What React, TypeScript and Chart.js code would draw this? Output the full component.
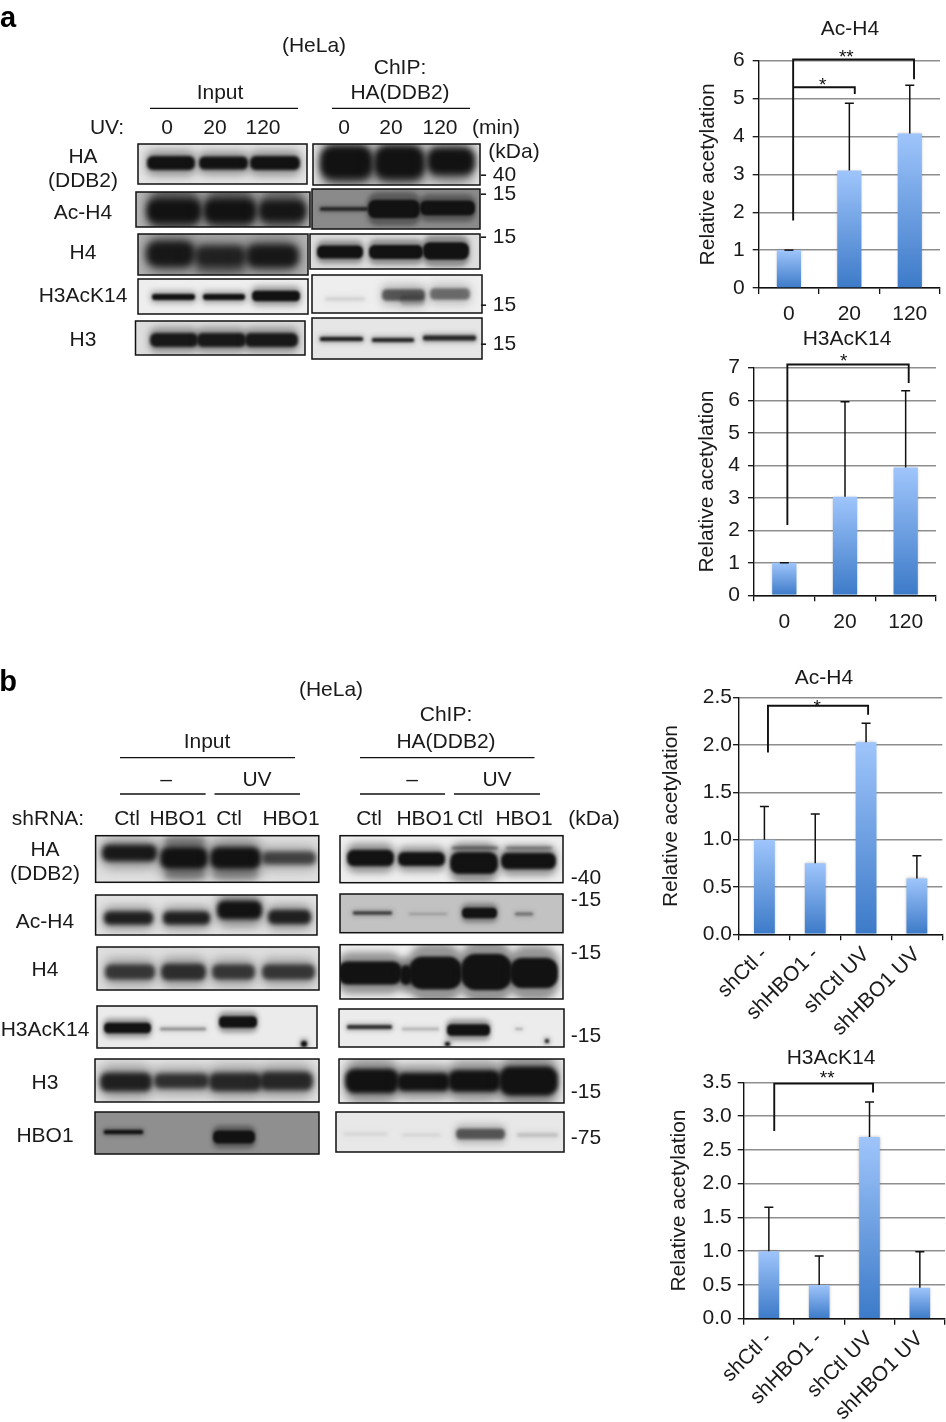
import React, { useEffect, useRef } from "react";
import { Chart, registerables } from "chart.js";

Chart.register(...registerables);

const FONT = '"Liberation Sans", Arial, Helvetica, sans-serif';
const TEXT_SIZE = 21;

// ---------- chart data ----------
const timeCategories = ["0", "20", "120"];
const knockdownCategories = ["shCtl -", "shHBO1 -", "shCtl UV", "shHBO1 UV"];
const yAxisLabel = "Relative acetylation";

const acH4TimeValues = [1, 3.1, 4.08];
const acH4TimeErrorTops = [1, 4.88, 5.35];
const h3TimeValues = [1, 3.03, 3.93];
const h3TimeErrorTops = [1, 5.95, 6.29];
const acH4KdValues = [1.0, 0.75, 2.03, 0.59];
const acH4KdErrorTops = [1.35, 1.27, 2.23, 0.83];
const h3KdValues = [1.0, 0.5, 2.69, 0.46];
const h3KdErrorTops = [1.65, 0.93, 3.21, 0.99];

// Significance brackets in data units: category position and value
const acH4TimeBrackets = [
  { from: 0.07, to: 2.07, fromY: 1.78, topY: 6.03, toY: 5.51 },
  { from: 0.07, to: 1.09, fromY: 5.3, topY: 5.3, toY: 5.12 },
];
const acH4TimeStars = [{ x: 0.95, y: 6.16, text: "**" }, { x: 0.56, y: 5.42, text: "*" }];
const h3TimeBrackets = [{ from: 0.05, to: 2.05, fromY: 2.16, topY: 7.1, toY: 6.53 }];
const h3TimeStars = [{ x: 0.98, y: 7.28, text: "*" }];
const acH4KdBrackets = [{ from: 0.07, to: 2.04, fromY: 1.92, topY: 2.415, toY: 2.32 }];
const acH4KdStars = [{ x: 1.04, y: 2.43, text: "*" }];
const h3KdBrackets = [{ from: 0.107, to: 2.07, fromY: 2.78, topY: 3.48, toY: 3.35 }];
const h3KdStars = [{ x: 1.16, y: 3.6, text: "**" }];

// ---------- chart set-up ----------
const CHARTS = [
  {
    title: "Ac-H4", labels: timeCategories, values: acH4TimeValues, errors: acH4TimeErrorTops,
    brackets: acH4TimeBrackets, stars: acH4TimeStars, max: 6, step: 1, decimals: 0, rotated: false,
    left: 680, right: 946, top: 15, bottom: 330, L: 758.7, R: 940, T: 60.7, B: 288,
    titleX: 850, titleY: 29, yTitleX: 708.7, tickPad: 8, barFrac: 0.4,
  },
  {
    title: "H3AcK14", labels: timeCategories, values: h3TimeValues, errors: h3TimeErrorTops,
    brackets: h3TimeBrackets, stars: h3TimeStars, max: 7, step: 1, decimals: 0, rotated: false,
    left: 680, right: 946, top: 325, bottom: 640, L: 754, R: 936, T: 367.7, B: 595.3,
    titleX: 847, titleY: 339, yTitleX: 707, tickPad: 8, barFrac: 0.4,
  },
  {
    title: "Ac-H4", labels: knockdownCategories, values: acH4KdValues, errors: acH4KdErrorTops,
    brackets: acH4KdBrackets, stars: acH4KdStars, max: 2.5, step: 0.5, decimals: 1, rotated: true,
    left: 650, right: 946, top: 664, bottom: 1045, L: 739, R: 942.3, T: 697.7, B: 934.3,
    titleX: 824, titleY: 678, yTitleX: 671.7, tickPad: 1, barFrac: 0.41,
  },
  {
    title: "H3AcK14", labels: knockdownCategories, values: h3KdValues, errors: h3KdErrorTops,
    brackets: h3KdBrackets, stars: h3KdStars, max: 3.5, step: 0.5, decimals: 1, rotated: true,
    left: 650, right: 946, top: 1044, bottom: 1422, L: 743.7, R: 945, T: 1082.3, B: 1318.7,
    titleX: 831, titleY: 1058, yTitleX: 679, tickPad: 6, barFrac: 0.41,
  },
];

// ---------- page labels: [text, centre x, centre y] ----------
const panelLetters = [["a", 8, 17], ["b", 8, 681]];
const blotLabels: [string, number, number][] = [
  ["(HeLa)", 314, 44], ["Input", 220, 91], ["ChIP:", 400, 66], ["HA(DDB2)", 400, 91],
  ["UV:", 107, 126], ["0", 167, 126], ["20", 215, 126], ["120", 263, 126],
  ["0", 344, 126], ["20", 391, 126], ["120", 440, 126], ["(min)", 496, 126], ["(kDa)", 514, 150],
  ["HA", 83, 155], ["(DDB2)", 83, 179], ["Ac-H4", 83, 211], ["H4", 83, 251], ["H3AcK14", 83, 294], ["H3", 83, 338],
  ["- 40", 498, 173], ["- 15", 498, 192], ["- 15", 498, 235], ["- 15", 498, 303], ["- 15", 498, 342],
  ["(HeLa)", 331, 688], ["Input", 207, 740], ["ChIP:", 446, 713], ["HA(DDB2)", 446, 740],
  ["–", 166, 778], ["UV", 257, 778], ["–", 412, 778], ["UV", 497, 778],
  ["shRNA:", 48, 817], ["Ctl", 127, 817], ["HBO1", 178, 817], ["Ctl", 229, 817], ["HBO1", 291, 817],
  ["Ctl", 369, 817], ["HBO1", 425, 817], ["Ctl", 470, 817], ["HBO1", 524, 817], ["(kDa)", 594, 817],
  ["HA", 45, 848], ["(DDB2)", 45, 872], ["Ac-H4", 45, 920], ["H4", 45, 968], ["H3AcK14", 45, 1028], ["H3", 45, 1081], ["HBO1", 45, 1134],
  ["-40", 586, 876], ["-15", 586, 898], ["-15", 586, 951], ["-15", 586, 1034], ["-15", 586, 1090], ["-75", 586, 1136],
];

// ---------- blot layer: page-unit scene for the image panels ----------
const headerRules = [
  [150, 298, 108.3], [332, 470, 108.3], [120, 295, 757.7], [360, 534.5, 757.7],
  [120, 205.6, 794], [214.5, 300, 794], [360, 445, 794], [454, 540, 794],
];
// band: [x0, x1, centre y, height, strength]; low-strength tall bands are lane haze
const blots = [
  { box: [138, 144, 307, 184], bg: "#e4e4e4", blur: 1.8, bands: [[147, 195, 163, 11, 1], [199, 248, 163, 10, 1], [250, 300, 163, 11, 1]] },
  { box: [313, 144, 480, 185], bg: "#eeeeee", blur: 3, bands: [[322, 372, 173, 14, 0.35], [375, 424, 173, 14, 0.35], [430, 472, 172, 10, 0.2], [320, 373, 162, 27, 1], [374, 425, 162, 27, 1], [427, 475, 161, 22, 1]] },
  { box: [136, 192, 310, 227], bg: "#bdbdbd", blur: 3, bands: [[148, 200, 210, 36, 0.3], [205, 255, 210, 36, 0.3], [260, 305, 210, 36, 0.25], [147, 201, 211, 19, 1], [204, 256, 211, 19, 1], [259, 306, 211, 17, 0.95]] },
  { box: [312, 189, 480, 229], bg: "#8a8a8a", blur: 0.8, bands: [[320, 368, 209, 3, 0.9], [368, 420, 209, 15, 1], [420, 475, 208, 12, 1]] },
  { box: [138, 234, 308, 275], bg: "#b9b9b9", blur: 3.5, bands: [[196, 245, 268, 10, 0.3], [146, 195, 254, 21, 0.95], [195, 246, 256, 17, 0.85], [246, 299, 256, 19, 0.95]] },
  { box: [310, 234, 480, 269], bg: "#dddddd", blur: 1.2, bands: [[317, 363, 252, 10, 1], [369, 423, 252, 11, 1], [423, 469, 251, 14, 1]] },
  { box: [138, 279, 308, 314], bg: "#eeeeee", blur: 1.3, bands: [[152, 195, 297, 6, 1], [203, 245, 297, 6, 1], [252, 300, 296, 8, 1]] },
  { box: [312, 275, 482, 313], bg: "#eeeeee", blur: 1.8, bands: [[325, 365, 299, 3, 0.12], [382, 425, 295, 9, 0.6], [430, 470, 294, 9, 0.5], [400, 425, 300, 8, 0.2]] },
  { box: [135.5, 321, 305, 355], bg: "#dddddd", blur: 1.5, bands: [[150, 198, 340, 11, 0.95], [197, 246, 340, 11, 0.95], [245, 298, 340, 11, 0.95]] },
  { box: [312, 318, 482, 359], bg: "#e6e6e6", blur: 1.2, bands: [[320, 363, 339, 4, 0.9], [372, 414, 340, 4, 0.85], [423, 476, 338, 5, 0.85]] },

  { box: [95.6, 835.7, 318.8, 882.3], bg: "#e0e0e0", blur: 2.5, bands: [[165, 205, 842, 8, 0.25], [165, 205, 874, 8, 0.25], [213, 258, 874, 8, 0.2], [102, 157, 853, 13, 0.95], [160, 208, 858, 18, 1], [210, 261, 858, 18, 1], [262, 316, 858, 10, 0.7]] },
  { box: [340, 835.7, 563, 882.7], bg: "#eeeeee", blur: 1.5, bands: [[347, 394, 858, 13, 1], [398, 445, 859, 11, 1], [450, 498, 863, 18, 1], [501, 556, 861, 13, 1], [452, 498, 848, 2, 0.65], [506, 552, 848, 2, 0.5]] },
  { box: [95.6, 895, 317, 935], bg: "#e2e2e2", blur: 2, bands: [[104, 153, 918, 10, 0.9], [163, 210, 918, 10, 0.9], [217, 262, 910, 15, 1], [268, 311, 917, 11, 0.9]] },
  { box: [340, 894, 563, 932.7], bg: "#c2c2c2", blur: 1, bands: [[353, 392, 913, 3, 0.75], [409, 447, 914, 2, 0.2], [462, 497, 913, 8, 1], [515, 533, 914, 3, 0.4]] },
  { box: [97, 947, 319, 990], bg: "#dedede", blur: 2, bands: [[105, 155, 972, 12, 0.75], [161, 206, 972, 13, 0.8], [212, 255, 972, 12, 0.75], [262, 315, 972, 12, 0.75]] },
  { box: [340, 944.7, 563, 999], bg: "#efefef", blur: 1.5, bands: [[338, 402, 973, 19, 1], [409, 462, 973, 27, 1], [461, 512, 972, 30, 1], [510, 558, 973, 25, 1], [400, 412, 975, 16, 1]] },
  { box: [97, 1006, 317, 1048], bg: "#ebebeb", blur: 1.2, bands: [[104, 151, 1028, 8, 1], [160, 206, 1029, 3, 0.35], [219, 257, 1022, 9, 1], [301, 307, 1044, 6, 1]] },
  { box: [339, 1009, 564, 1047], bg: "#ececec", blur: 1, bands: [[347, 392, 1027, 4, 0.8], [402, 439, 1029, 3, 0.2], [447, 490, 1030, 9, 1], [515, 523, 1029, 2, 0.25], [445, 450, 1044, 4, 1], [545, 549, 1041, 4, 0.9]] },
  { box: [95, 1059, 319, 1102], bg: "#e4e4e4", blur: 2.5, bands: [[100, 152, 1082, 15, 0.9], [154, 209, 1081, 12, 0.8], [209, 262, 1082, 15, 0.85], [260, 313, 1081, 15, 0.85]] },
  { box: [339, 1059, 564, 1103], bg: "#eaeaea", blur: 2, bands: [[345, 399, 1081, 20, 1], [397, 450, 1082, 15, 1], [448, 501, 1081, 18, 1], [499, 558, 1081, 24, 1]] },
  { box: [95, 1112, 319, 1154], bg: "#8f8f8f", blur: 0.8, bands: [[104, 143, 1132, 4, 1], [213, 255, 1137, 10, 1]] },
  { box: [336, 1112, 564, 1152], bg: "#e8e8e8", blur: 1.5, bands: [[343, 388, 1134, 2, 0.1], [402, 441, 1135, 2, 0.1], [456, 505, 1134, 8, 0.6], [517, 558, 1135, 3, 0.2]] },
];

const blotPlugin = {
  id: "blots",
  afterDraw(chart: any) {
    const { ctx, scales } = chart;
    const px = (v: number) => scales.x.getPixelForValue(v);
    const py = (v: number) => scales.y.getPixelForValue(v);
    ctx.save();
    for (const b of blots) {
      const [x0, y0, x1, y1] = b.box;
      const bx = px(x0), by = py(y0), bw = px(x1) - bx, bh = py(y1) - by;
      ctx.save();
      ctx.beginPath();
      ctx.rect(bx, by, bw, bh);
      ctx.clip();
      ctx.fillStyle = b.bg;
      ctx.fillRect(bx, by, bw, bh);
      for (const [a0, a1, yc, h0, s] of b.bands) {
        const ax = px(a0), aw = px(a1) - ax;
        const h = h0 > 6 ? h0 * 1.18 + 1 : h0;
        // soft halo, then the band itself
        ctx.filter = `blur(${b.blur * 2.4}px)`;
        ctx.fillStyle = `rgba(25,25,25,${0.42 * s})`;
        ctx.beginPath();
        ctx.roundRect(ax - 1, py(yc) - h * 0.9, aw + 2, h * 1.8, h * 0.6);
        ctx.fill();
        ctx.filter = `blur(${b.blur}px)`;
        ctx.fillStyle = `rgba(18,18,18,${s})`;
        ctx.beginPath();
        ctx.roundRect(ax, py(yc) - h / 2, aw, h, h * 0.4);
        ctx.fill();
      }
      ctx.restore();
      ctx.strokeStyle = "#111";
      ctx.lineWidth = 1.5;
      ctx.strokeRect(bx, by, bw, bh);
    }
    ctx.strokeStyle = "#111";
    ctx.lineWidth = 1.3;
    for (const [a, b, y] of headerRules) {
      ctx.beginPath();
      ctx.moveTo(px(a), py(y));
      ctx.lineTo(px(b), py(y));
      ctx.stroke();
    }
    ctx.restore();
  },
};

const marksPlugin = {
  id: "marks",
  afterLayout(chart: any, _a: any, o: any) {
    // put the title where the figure has it, which is not over the plot's centre
    const t = chart.titleBlock;
    if (t) {
      const centre = (t.left + t.right) / 2;
      const dx = o.titleCentre - centre;
      t.left += dx;
      t.right += dx;
    }
  },
  beforeDatasetsDraw(chart: any) {
    chart.ctx.save();
    chart.ctx.shadowColor = "rgba(60,60,60,0.35)";
    chart.ctx.shadowBlur = 3;
  },
  afterDatasetsDraw(chart: any, _a: any, o: any) {
    const { ctx, scales } = chart;
    ctx.restore();
    ctx.save();
    const x = (v: number) => scales.x.getPixelForValue(v);
    const y = (v: number) => scales.y.getPixelForValue(v);
    ctx.strokeStyle = "#111";
    ctx.lineWidth = 1.5;
    o.errors.forEach((top: number, i: number) => {
      const base = chart.data.datasets[0].data[i];
      ctx.beginPath();
      ctx.moveTo(x(i), y(base));
      ctx.lineTo(x(i), y(top));
      ctx.moveTo(x(i) - 4.5, y(top));
      ctx.lineTo(x(i) + 4.5, y(top));
      ctx.stroke();
    });
    ctx.lineWidth = 1.9;
    for (const b of o.brackets) {
      ctx.beginPath();
      ctx.moveTo(x(b.from), y(b.fromY));
      ctx.lineTo(x(b.from), y(b.topY));
      ctx.lineTo(x(b.to), y(b.topY));
      ctx.lineTo(x(b.to), y(b.toY));
      ctx.stroke();
    }
    ctx.fillStyle = "#111";
    ctx.font = `19px ${FONT}`;
    ctx.textAlign = "center";
    ctx.textBaseline = "middle";
    for (const s of o.stars) ctx.fillText(s.text, x(s.x), y(s.y) + 3);
    ctx.restore();
  },
};

function makeChart(canvas: HTMLCanvasElement, c: (typeof CHARTS)[number]) {
  const titleLine = TEXT_SIZE * 1.2;
  const titlePadTop = c.titleY - c.top - titleLine / 2;
  return new Chart(canvas, {
    type: "bar",
    data: {
      labels: c.labels,
      datasets: [{
        data: c.values,
        categoryPercentage: 1,
        barPercentage: c.barFrac,
        borderWidth: 0,
        backgroundColor: (ctx: any) => {
          const s = ctx.chart.scales.y;
          const v = c.values[ctx.dataIndex];
          const top = s && v !== undefined ? s.getPixelForValue(v) : NaN;
          const bottom = s ? s.getPixelForValue(0) : NaN;
          if (ctx.type !== "data" || !Number.isFinite(top) || !Number.isFinite(bottom)) return "#6b9fe0";
          const g = ctx.chart.ctx.createLinearGradient(0, top, 0, bottom);
          g.addColorStop(0, "#9fc5fb");
          g.addColorStop(1, "#3c7ac8");
          return g;
        },
      }],
    },
    plugins: [marksPlugin],
    options: {
      animation: false,
      responsive: false,
      layout: { padding: { left: 0, top: 0, bottom: 0, right: c.right - c.R } },
      plugins: {
        legend: { display: false },
        tooltip: { enabled: false },
        title: {
          display: true,
          text: c.title,
          color: "#1a1a1a",
          font: { family: FONT, size: TEXT_SIZE, weight: "normal", lineHeight: 1.2 },
          padding: { top: titlePadTop, bottom: c.T - c.top - titlePadTop - titleLine },
        },
        marks: {
          errors: c.errors,
          brackets: c.brackets,
          stars: c.stars,
          titleCentre: c.titleX - c.left,
        },
      } as any,
      scales: {
        x: {
          afterFit: (s: any) => { s.height = c.bottom - c.B; },
          grid: { drawOnChartArea: false, drawTicks: true, tickLength: 6, color: "#111", lineWidth: 1.3 },
          border: { color: "#111", width: 1.4 },
          ticks: {
            color: "#1a1a1a",
            font: { family: FONT, size: TEXT_SIZE },
            padding: c.rotated ? 2 : 8,
            autoSkip: false,
            maxRotation: c.rotated ? 45 : 0,
            minRotation: c.rotated ? 45 : 0,
          },
        },
        y: {
          min: 0,
          max: c.max,
          afterFit: (s: any) => { s.width = c.L - c.left; },
          grid: { color: "#8e8e8e", lineWidth: 1.4, tickColor: "#111", tickLength: 6, tickWidth: 1.3 },
          border: { color: "#111", width: 1.4 },
          title: {
            display: true,
            text: yAxisLabel,
            color: "#1a1a1a",
            font: { family: FONT, size: TEXT_SIZE, lineHeight: 1.2 },
            padding: { top: c.yTitleX - c.left - (TEXT_SIZE * 1.2) / 2, bottom: 0 },
          },
          ticks: {
            stepSize: c.step,
            color: "#1a1a1a",
            font: { family: FONT, size: TEXT_SIZE },
            padding: c.tickPad,
            callback: (v: any) => Number(v).toFixed(c.decimals),
          },
        },
      },
    } as any,
  });
}

function makeBlotLayer(canvas: HTMLCanvasElement) {
  return new Chart(canvas, {
    type: "scatter",
    data: { datasets: [{ data: [] }] },
    plugins: [blotPlugin],
    options: {
      animation: false,
      responsive: false,
      plugins: { legend: { display: false }, tooltip: { enabled: false } },
      scales: {
        x: { display: false, min: 0, max: 946 },
        y: { display: false, min: 0, max: 1422, reverse: true },
      },
    } as any,
  });
}

const abs = (x: number, y: number): React.CSSProperties => ({
  position: "absolute",
  left: x,
  top: y,
  transform: "translate(-50%,-50%)",
  whiteSpace: "nowrap",
  lineHeight: 1,
});

export default function App() {
  const blotRef = useRef<HTMLCanvasElement>(null);
  const refs = useRef<(HTMLCanvasElement | null)[]>([]);

  useEffect(() => {
    const made = [makeBlotLayer(blotRef.current!), ...CHARTS.map((c, i) => makeChart(refs.current[i]!, c))];
    return () => made.forEach((m) => m.destroy());
  }, []);

  return (
    <div style={{ position: "absolute", left: 0, top: 0, width: 946, height: 1422, overflow: "hidden", background: "#fff", fontFamily: FONT, color: "#1a1a1a" }}>
      <canvas ref={blotRef} width={946} height={1422} style={{ position: "absolute", left: 0, top: 0, display: "block" }} />
      {CHARTS.map((c, i) => (
        <canvas
          key={i}
          ref={(el) => { refs.current[i] = el; }}
          width={c.right - c.left}
          height={c.bottom - c.top}
          style={{ position: "absolute", left: c.left, top: c.top, display: "block" }}
        />
      ))}
      {blotLabels.map(([t, x, y], i) => (
        <div key={i} style={{ ...abs(x, y), fontSize: TEXT_SIZE }}>{t}</div>
      ))}
      {panelLetters.map(([t, x, y], i) => (
        <div key={i} style={{ ...abs(x as number, y as number), fontSize: 29, fontWeight: 700, color: "#000" }}>{t}</div>
      ))}
    </div>
  );
}
